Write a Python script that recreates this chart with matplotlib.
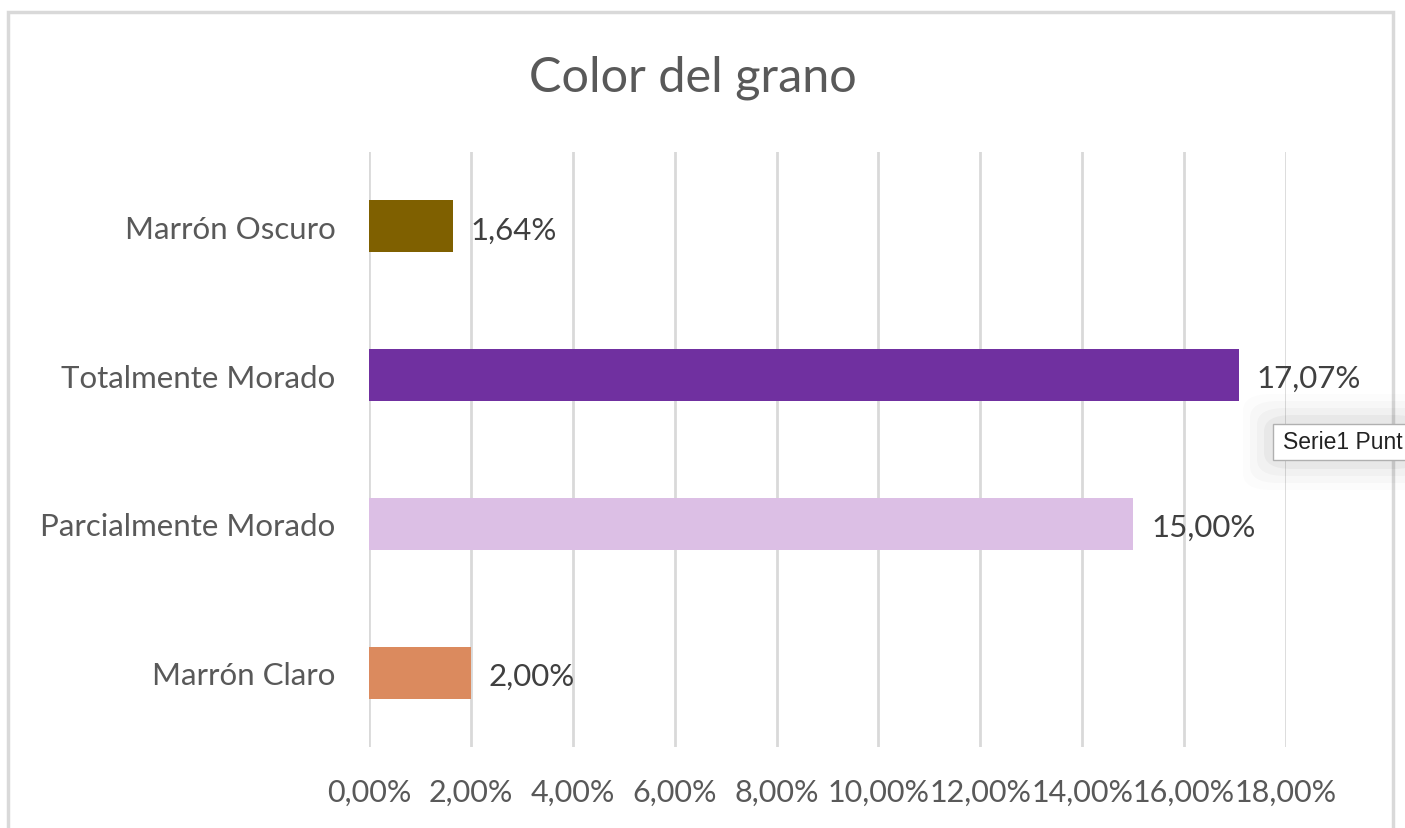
import matplotlib
matplotlib.use("Agg")
import matplotlib.pyplot as plt
from matplotlib.patches import FancyBboxPatch, Rectangle
from matplotlib.ticker import FuncFormatter

# Datos del gráfico (porcentaje por color de grano)
categorias = ["Marrón Claro", "Parcialmente Morado", "Totalmente Morado", "Marrón Oscuro"]
valores = [2.00, 15.00, 17.07, 1.64]
colores = ["#DB8A5E", "#DCBFE5", "#7030A0", "#7F6000"]
ticks_x = [0, 2, 4, 6, 8, 10, 12, 14, 16, 18]

TXT = "#595959"
GRID = "#D9D9D9"
plt.rcParams["font.family"] = ["Lato", "DejaVu Sans"]


def fmt_pct(v, pos=None):
    return f"{v:.2f}%".replace(".", ",")


fig = plt.figure(figsize=(14.05, 8.29), dpi=100)

# marco del área del gráfico
fig.patches.append(Rectangle((8 / 1405, -0.01), (1393 - 8) / 1405, 1.01 - 13 / 829,
                             transform=fig.transFigure, fill=False,
                             edgecolor="#D9D9D9", linewidth=2.5))

ax = fig.add_axes([369 / 1405, 1 - 748 / 829, (1286 - 369) / 1405, (748 - 153) / 829])
y = range(len(categorias))
ax.barh(y, valores, height=0.35, color=colores, zorder=3)

ax.set_xlim(0, 18)
ax.set_ylim(-0.5, len(categorias) - 0.5)
ax.set_xticks(ticks_x)
ax.xaxis.set_major_formatter(FuncFormatter(fmt_pct))
ax.set_yticks(list(y))
ax.set_yticklabels(categorias)
ax.grid(axis="x", color=GRID, linewidth=2, zorder=0)
for s in ax.spines.values():
    s.set_visible(False)
ax.tick_params(axis="y", length=0, pad=24, labelsize=22.5, labelcolor=TXT)
ax.tick_params(axis="x", length=0, pad=22, labelsize=22, labelcolor=TXT)

for yi, v in zip(y, valores):
    ax.text(v + 0.35, yi - 0.02, fmt_pct(v), va="center", ha="left",
            fontsize=22.5, color="#404040")

fig.text(693 / 1405, 1 - 78 / 829, "Color del grano", ha="center", va="center",
         fontsize=35, color=TXT)

# tooltip con sombra difusa
for i, a in enumerate([0.012, 0.018, 0.025, 0.035]):
    pad = 30 - i * 7
    fig.patches.append(FancyBboxPatch((1273 / 1405 - pad / 1405, 1 - (461 + pad) / 829),
                                      (140 + 2 * pad) / 1405, (36 + 2 * pad) / 829,
                                      boxstyle="round,pad=0,rounding_size=0.02",
                                      transform=fig.transFigure, facecolor="black",
                                      edgecolor="none", alpha=a))
fig.patches.append(Rectangle((1273 / 1405, 1 - 461 / 829), 140 / 1405, 36 / 829,
                             transform=fig.transFigure, facecolor="white",
                             edgecolor="#B0B0B0", linewidth=1))
fig.text(1283 / 1405, 1 - 443 / 829, "Serie1 Punt", ha="left", va="center",
         fontsize=16.5, color="#222222", family=["Helvetica", "Liberation Sans", "DejaVu Sans"])

fig.savefig("out.png", dpi=100)
